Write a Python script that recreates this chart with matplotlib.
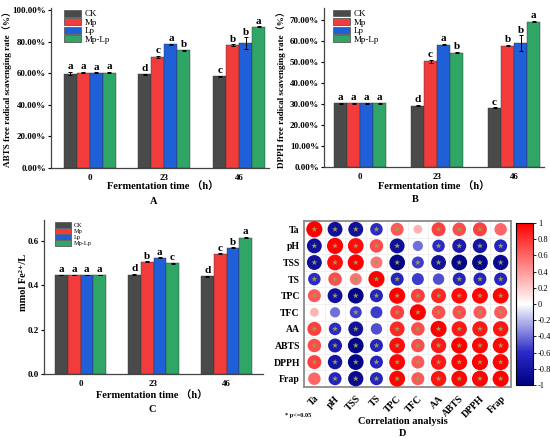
import matplotlib
matplotlib.use("Agg")
import matplotlib.pyplot as plt
import numpy as np
from matplotlib.colors import LinearSegmentedColormap
from matplotlib.patches import Patch

plt.rcParams['font.family'] = ['Liberation Serif', 'Noto Sans CJK SC', 'DejaVu Serif']

# ---- data ----
times = ["0", "23", "46"]
groups = ["CK", "Mp", "Lp", "Mp-Lp"]
colors = ["#4a4a4a", "#f23c3c", "#1f5fd8", "#2fa566"]

# ABTS (%)
abts = [[59.7, 59.3, 58.2],
        [60.3, 70.3, 77.9],
        [60.2, 78.3, 78.9],
        [60.3, 74.6, 89.3]]
abts_err = [[0.9, 0.2, 0.3],
            [0.3, 0.6, 0.4],
            [0.3, 0.4, 3.8],
            [0.3, 0.4, 0.3]]
abts_sig = [["a", "d", "c"], ["a", "c", "b"], ["a", "a", "b"], ["a", "b", "a"]]

# DPPH (%)
dpph = [[30.3, 29.3, 28.2],
        [30.3, 50.3, 57.9],
        [30.3, 58.3, 58.9],
        [30.3, 54.5, 69.3]]
dpph_err = [[0.3, 0.1, 0.2],
            [0.3, 0.6, 0.4],
            [0.3, 0.3, 3.8],
            [0.3, 0.3, 0.3]]
dpph_sig = [["a", "d", "c"], ["a", "c", "b"], ["a", "a", "b"], ["a", "b", "a"]]

# FRAP (mmol Fe2+/L)
frap = [[0.447, 0.449, 0.442],
        [0.447, 0.507, 0.542],
        [0.447, 0.524, 0.569],
        [0.447, 0.500, 0.616]]
frap_err = [[0.002, 0.002, 0.002],
            [0.002, 0.002, 0.002],
            [0.002, 0.002, 0.002],
            [0.002, 0.002, 0.003]]
frap_sig = [["a", "d", "d"], ["a", "b", "c"], ["a", "a", "b"], ["a", "c", "a"]]

# correlation matrix
var_names = ["Ta", "pH", "TSS", "TS", "TPC", "TFC", "AA", "ABTS", "DPPH", "Frap"]
corr = [
    [1.00, -0.85, -0.85, -0.60, 0.65, 0.30, 0.75, 0.70, 0.75, 0.60],
    [-0.85, 1.00, 0.95, 0.70, -0.85, -0.40, -0.60, -0.75, -0.80, -0.65],
    [-0.85, 0.95, 1.00, 0.55, -0.95, -0.55, -0.85, -0.95, -0.95, -0.90],
    [-0.60, 0.70, 0.55, 1.00, -0.65, -0.55, -0.50, -0.65, -0.65, -0.65],
    [0.65, -0.85, -0.95, -0.65, 1.00, 0.75, 0.85, 0.95, 0.97, 0.97],
    [0.30, -0.40, -0.55, -0.55, 0.75, 1.00, 0.70, 0.70, 0.65, 0.65],
    [0.75, -0.60, -0.85, -0.50, 0.85, 0.70, 1.00, 0.90, 0.90, 0.92],
    [0.70, -0.75, -0.95, -0.65, 0.95, 0.70, 0.90, 1.00, 0.97, 0.97],
    [0.75, -0.80, -0.95, -0.65, 0.97, 0.65, 0.90, 0.97, 1.00, 0.98],
    [0.60, -0.65, -0.90, -0.65, 0.97, 0.65, 0.92, 0.97, 0.98, 1.00],
]
not_sig = [("Ta", "TFC"), ("Ta", "Frap"), ("pH", "TFC"), ("TS", "TFC"), ("TS", "AA")]

W, H = 550, 441
fig = plt.figure(figsize=(W / 100, H / 100), dpi=100)


def px_axes(l, t, r, b):
    return fig.add_axes([l / W, 1 - b / H, (r - l) / W, (b - t) / H])


def ftext(x, y, s, **kw):
    fig.text(x / W, 1 - y / H, s, ha='center', va='center', **kw)


def bar_panel(ax, vals, errs, sig, ylim, xlim, bw, sig_off, leg_anchor, leg_fs, leg_hl, leg_hh):
    x = np.arange(len(times))
    for k in range(len(groups)):
        pos = x + (k - 1.5) * bw
        ax.bar(pos, vals[k], bw, color=colors[k], edgecolor='#333333', linewidth=0.3,
               yerr=errs[k], error_kw=dict(ecolor='black', elinewidth=0.7, capsize=1.5, capthick=0.7))
        for j in range(len(times)):
            ax.text(pos[j], vals[k][j] + errs[k][j] + sig_off, sig[k][j], ha='center', va='bottom',
                    fontsize=8, fontweight='bold')
    ax.set_xlim(*xlim)
    ax.set_ylim(*ylim)
    ax.set_xticks(x)
    ax.set_xticklabels(times, fontsize=6.5, fontweight='bold')
    ax.tick_params(axis='x', length=0, pad=4)
    ax.tick_params(axis='y', length=2, width=0.8, labelsize=6.5, pad=1.5)
    for s in ['top', 'right']:
        ax.spines[s].set_visible(False)
    for s in ['left', 'bottom']:
        ax.spines[s].set_color('#444444')
        ax.spines[s].set_linewidth(0.9)
    handles = [Patch(facecolor=colors[k], edgecolor='#666666', linewidth=0.7, label=groups[k])
               for k in range(len(groups))]
    ax.legend(handles=handles, loc='upper left', bbox_to_anchor=leg_anchor, frameon=False,
              fontsize=leg_fs, handlelength=leg_hl, handleheight=leg_hh, labelspacing=0,
              borderpad=0, borderaxespad=0, handletextpad=0.4)


# ---- A ----
axA = px_axes(51, 8, 269, 168)
bar_panel(axA, abts, abts_err, abts_sig, (0, 101.3), (-0.52, 2.4), 0.174, 0.5,
          (0.06, 0.99), 6.5, 1.9, 0.8)
axA.set_yticks(np.arange(0, 101, 20))
axA.set_yticklabels([f"{v:.2f}%" for v in np.arange(0, 101, 20)], fontweight='bold')
ftext(7, 87, "ABTS free radical scavenging rate（%）", rotation=90, fontsize=6.6, fontweight='bold')
ftext(163, 187, "Fermentation time （h）", fontsize=7.5, fontweight='bold')
ftext(154, 201, "A", fontsize=7.5, fontweight='bold')

# ---- B ----
axB = px_axes(324, 8, 544, 167)
bar_panel(axB, dpph, dpph_err, dpph_sig, (0, 75.8), (-0.47, 2.39), 0.169, 0.4,
          (0.04, 0.99), 6.5, 1.9, 0.8)
axB.set_yticks(np.arange(0, 71, 10))
axB.set_yticklabels([f"{v:.2f}%" for v in np.arange(0, 71, 10)], fontweight='bold')
ftext(281, 87, "DPPH free radical scavenging rate（%）", rotation=90, fontsize=6.6, fontweight='bold')
ftext(434, 187, "Fermentation time （h）", fontsize=7.5, fontweight='bold')
ftext(415, 200, "B", fontsize=7.5, fontweight='bold')

# ---- C ----
axC = px_axes(44, 220, 263, 374)
bar_panel(axC, frap, frap_err, frap_sig, (0, 0.695), (-0.5, 2.5), 0.174, 0.003,
          (0.05, 0.99), 4.5, 2.6, 1.1)
axC.set_yticks([0.0, 0.2, 0.4, 0.6])
axC.set_yticklabels(["0.0", "0.2", "0.4", "0.6"], fontweight='bold')
ftext(23, 282, "mmol Fe²⁺/L", rotation=90, fontsize=7.5, fontweight='bold')
ftext(152, 396, "Fermentation time （h）", fontsize=7.5, fontweight='bold')
ftext(152, 409, "C", fontsize=7.5, fontweight='bold')

# ---- D ----
cmap = LinearSegmentedColormap.from_list(
    "corr", [(0, '#000080'), (0.2, '#2a2ac8'), (0.5, 'white'), (1, '#ff0000')])
axD = px_axes(304, 221, 511, 387)
cm = np.array(corr)
n = len(var_names)
ii, jj = np.meshgrid(np.arange(n), np.arange(n), indexing='ij')
axD.scatter(jj.ravel(), ii.ravel(), s=np.abs(cm.ravel()) * 135, c=cm.ravel(),
            cmap=cmap, vmin=-1, vmax=1, edgecolors='none', zorder=3)
sig_mask = np.ones((n, n), dtype=bool)
for a, b in not_sig:
    ia, ib = var_names.index(a), var_names.index(b)
    sig_mask[ia, ib] = False
    sig_mask[ib, ia] = False
axD.scatter(jj[sig_mask], ii[sig_mask], marker='*', s=20, color='#9c9c55',
            edgecolors='none', zorder=4)
axD.set_xlim(-0.5, n - 0.5)
axD.set_ylim(n - 0.5, -0.5)
axD.set_xticks(np.arange(n) - 0.5, minor=True)
axD.set_yticks(np.arange(n) - 0.5, minor=True)
axD.grid(which='minor', color='#eeeeee', linewidth=0.6)
axD.set_xticks(np.arange(n))
axD.set_yticks(np.arange(n))
axD.set_xticklabels(var_names, rotation=45, ha='right', rotation_mode='anchor',
                    fontsize=7, fontweight='bold')
axD.set_yticklabels(var_names, fontsize=7, fontweight='bold')
axD.tick_params(which='both', length=0, pad=3)
axD.tick_params(axis='x', pad=5)
for s in axD.spines.values():
    s.set_color('#8c8c8c')
    s.set_linewidth(1.3)

cax = px_axes(516, 223, 533, 385)
sm = plt.cm.ScalarMappable(cmap=cmap, norm=plt.Normalize(-1, 1))
cb = fig.colorbar(sm, cax=cax)
cb_ticks = np.round(np.arange(-1, 1.01, 0.2), 1)
cb.set_ticks(cb_ticks)
cb.set_ticklabels([f"{v:g}" if abs(v) > 1e-9 else "0" for v in cb_ticks])
cax.tick_params(labelsize=6, length=2, width=0.6, pad=1.5)
cb.outline.set_linewidth(0.8)

fig.text(285 / W, 1 - 415 / H, "* p<=0.05", ha='left', va='center', fontsize=4.5, fontweight='bold')
ftext(403, 421, "Correlation analysis", fontsize=7.5, fontweight='bold')
ftext(403, 433, "D", fontsize=7.5, fontweight='bold')

fig.savefig("out.png", dpi=100)
